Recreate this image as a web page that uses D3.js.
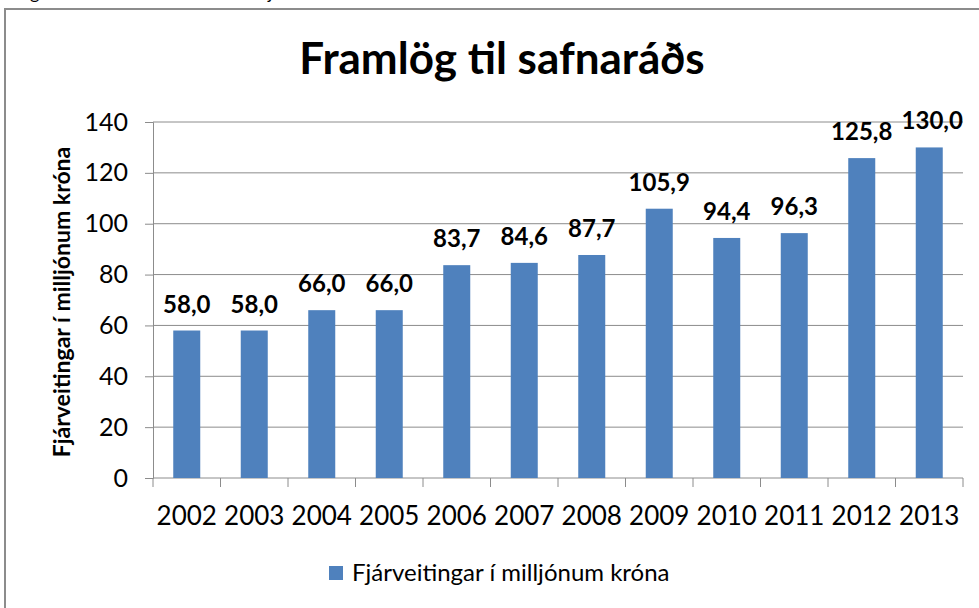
<!DOCTYPE html>
<html>
<head>
<meta charset="utf-8">
<script src="https://cdn.jsdelivr.net/npm/d3@7"></script>
<style>
    body { margin: 0; background: #fff; }
    svg { display: block; font-family: Lato, "Open Sans", sans-serif; }
</style>
</head>
<body>
<div id="chart"></div>
<script>
const years = ["2002", "2003", "2004", "2005", "2006", "2007", "2008", "2009", "2010", "2011", "2012", "2013"];
const values = [58.0, 58.0, 66.0, 66.0, 83.7, 84.6, 87.7, 105.9, 94.4, 96.3, 125.8, 130.0];
const yTicks = [0, 20, 40, 60, 80, 100, 120, 140];
const seriesName = "Fjárveitingar í milljónum króna";
const chartTitle = "Framlög til safnaráðs";

const width = 979,
    height = 608,
    plotLeft = 153,
    plotRight = 963,
    plotTop = 122,
    plotBottom = 478;

const svg = d3.select("#chart")
    .append("svg")
    .attr("width", width)
    .attr("height", height);

// cut-off caption line above the chart frame
svg.append("text")
    .attr("x", 30).attr("y", -1)
    .attr("font-size", 18)
    .text("g");
svg.append("text")
    .attr("x", 268).attr("y", -1)
    .attr("font-size", 18)
    .text("j");

// chart frame (runs off the right and bottom edges)
svg.append("rect")
    .attr("x", 5).attr("y", 9)
    .attr("width", 1000).attr("height", 700)
    .attr("fill", "none")
    .attr("stroke", "#8c8c8c")
    .attr("stroke-width", 2);

const x = d3.scaleBand()
    .domain(years)
    .range([plotLeft, plotRight])
    .paddingInner(0.6)
    .paddingOuter(0.3);

const y = d3.scaleLinear()
    .domain([0, 140])
    .range([plotBottom, plotTop]);

// gridlines
svg.append("g")
    .selectAll("line")
    .data(yTicks.slice(1))
    .enter().append("line")
    .attr("x1", plotLeft).attr("x2", plotRight)
    .attr("y1", d => y(d)).attr("y2", d => y(d))
    .attr("stroke", "#8c8c8c")
    .attr("stroke-width", 1);

// y axis
const yAxis = svg.append("g")
    .attr("transform", "translate(" + plotLeft + ",0)")
    .call(d3.axisLeft(y).tickValues(yTicks).tickSize(8).tickPadding(17).tickFormat(d3.format("d")));
yAxis.selectAll("text")
    .attr("font-size", 25)
    .attr("font-family", "Lato")
    .attr("fill", "#000");
yAxis.select(".domain").attr("stroke", "#8c8c8c");
yAxis.selectAll(".tick line").attr("stroke", "#8c8c8c");

// x axis, ticks between categories
const step = x.step();
const xAxis = svg.append("g")
    .attr("transform", "translate(0," + plotBottom + ")");
xAxis.append("line")
    .attr("x1", plotLeft).attr("x2", plotRight)
    .attr("stroke", "#8c8c8c");
xAxis.selectAll(".tick")
    .data(d3.range(years.length + 1))
    .enter().append("line")
    .attr("x1", d => plotLeft + d * step).attr("x2", d => plotLeft + d * step)
    .attr("y1", 0).attr("y2", 9)
    .attr("stroke", "#8c8c8c");
xAxis.selectAll(".lbl")
    .data(years)
    .enter().append("text")
    .attr("x", d => x(d) + x.bandwidth() / 2)
    .attr("y", 47)
    .attr("text-anchor", "middle")
    .attr("font-size", 26)
    .text(d => d);

// bars
svg.append("g")
    .selectAll("rect")
    .data(values)
    .enter().append("rect")
    .attr("x", (d, i) => x(years[i]))
    .attr("y", d => y(d))
    .attr("width", x.bandwidth())
    .attr("height", d => y(0) - y(d))
    .attr("fill", "#4f81bd");

// data labels
svg.append("g")
    .selectAll("text")
    .data(values)
    .enter().append("text")
    .attr("x", (d, i) => x(years[i]) + x.bandwidth() / 2 + (i === years.length - 1 ? 3 : 0))
    .attr("y", d => y(d) - 18)
    .attr("text-anchor", "middle")
    .attr("font-size", 24)
    .attr("font-weight", "bold")
    .text(d => d3.format(".1f")(d).replace(".", ","));

// title
svg.append("text")
    .attr("x", 502).attr("y", 74)
    .attr("text-anchor", "middle")
    .attr("font-size", 44)
    .attr("font-weight", "bold")
    .text(chartTitle);

// y axis title
svg.append("text")
    .attr("transform", "translate(70,302)rotate(-90)")
    .attr("text-anchor", "middle")
    .attr("font-size", 23)
    .attr("font-weight", "bold")
    .text(seriesName);

// legend
svg.append("rect")
    .attr("x", 329).attr("y", 566)
    .attr("width", 14).attr("height", 14)
    .attr("fill", "#4f81bd");
svg.append("text")
    .attr("x", 352).attr("y", 581)
    .attr("font-size", 24)
    .text(seriesName);
</script>
</body>
</html>
